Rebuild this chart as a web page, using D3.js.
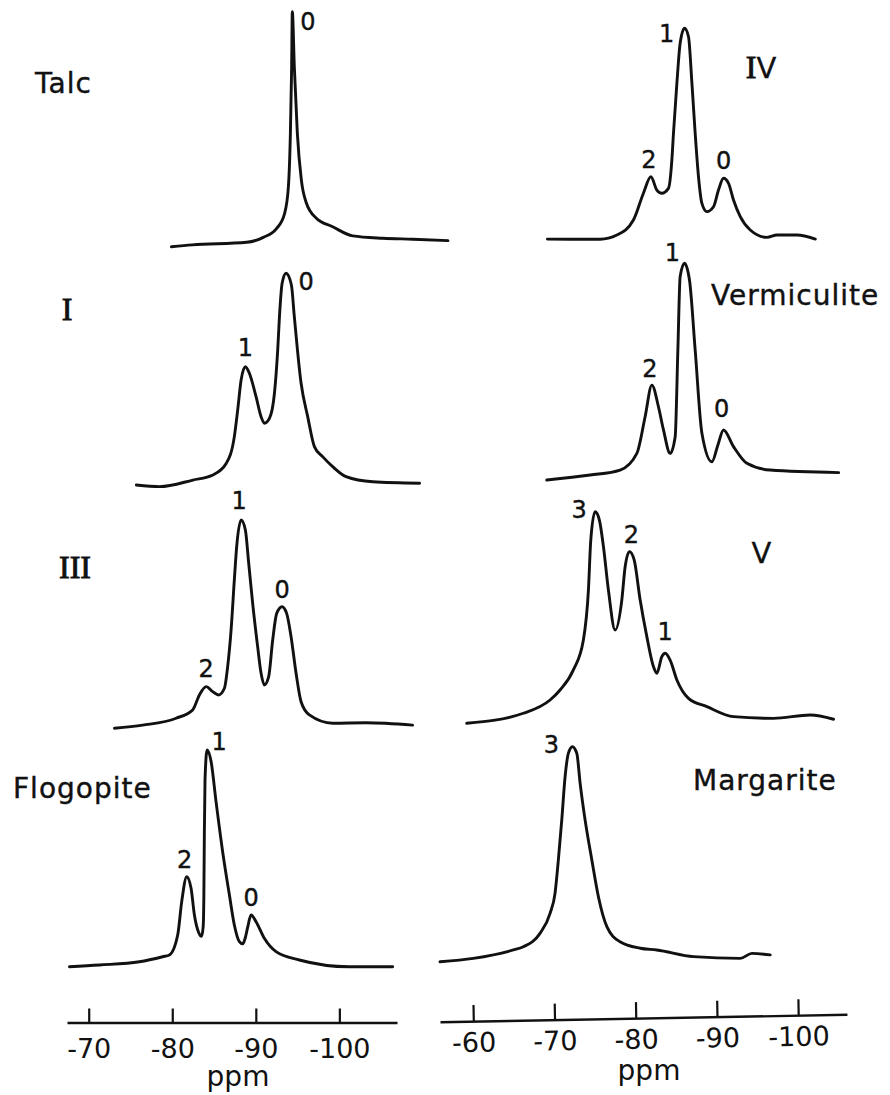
<!DOCTYPE html>
<html>
<head>
<meta charset="utf-8">
<script src="https://cdn.jsdelivr.net/npm/d3@7"></script>
<style>
  html, body { margin: 0; padding: 0; background: #fff; }
  svg { display: block; }
</style>
</head>
<body>
<svg id="chart" width="890" height="1095"></svg>
<script>
// 29Si MAS NMR spectra of layer silicates: [chemical shift (ppm), relative intensity]
const ticksLeft = [-70, -80, -90, -100];
const ticksRight = [-60, -70, -80, -90, -100];
const axisTitle = "ppm";

const talc = [[-79.9, 0.1], [-82.4, 0.9], [-88.9, 2.0], [-90.9, 4.1], [-92.5, 7.9], [-93.45, 14.3],
  [-93.9, 25.6], [-94.14, 48.4], [-94.29, 76.6], [-94.37, 100], [-94.61, 76.6], [-94.97, 48.4],
  [-95.45, 28.5], [-96.05, 18.7], [-97.25, 12.2], [-99.2, 8.6], [-101.6, 4.7], [-105.2, 3.7],
  [-108.8, 3.3], [-113.0, 2.7]];
const talcPeaks = [["0", -94.37, 100]];

const sampleI = [[-75.7, 0.5], [-78.49, -0.3], [-82.47, 2.8], [-84.86, 5.2], [-86.47, 10.7],
  [-87.43, 23.2], [-87.83, 35.7], [-88.24, 49.8], [-88.75, 56.1], [-89.23, 53.0], [-90.03, 42.0],
  [-90.63, 32.6], [-91.03, 29.5], [-91.63, 31.8], [-92.23, 43.6], [-92.62, 63.9], [-92.83, 79.6],
  [-93.15, 95.3], [-93.62, 100], [-94.26, 94.5], [-94.61, 79.6], [-95.42, 48.3], [-96.21, 32.6],
  [-97.01, 18.5], [-98.0, 13.8], [-99.2, 9.1], [-100.8, 4.4], [-104.0, 2.0], [-109.6, 1.3]];
const sampleIPeaks = [["1", -88.75, 56.1], ["0", -93.62, 100]];

const sampleIII = [[-73.08, -0.1], [-76.46, 1.4], [-80.46, 4.7], [-82.44, 8.7], [-83.25, 15.9],
  [-84.05, 19.9], [-84.84, 17.5], [-85.56, 15.9], [-86.24, 19.1], [-86.63, 29.5], [-87.04, 47.1],
  [-87.43, 71.2], [-87.71, 87.2], [-88.24, 100], [-88.75, 95.2], [-89.15, 79.2], [-89.62, 60.0],
  [-90.22, 39.1], [-90.63, 26.3], [-91.02, 20.7], [-91.54, 24.7], [-92.02, 42.3], [-92.5, 55.1],
  [-93.14, 58.3], [-93.69, 55.1], [-94.22, 43.9], [-94.82, 26.3], [-95.42, 12.6], [-96.41, 6.3],
  [-99.2, 2.3], [-103.19, 2.5], [-108.77, 1.4]];
const sampleIIIPeaks = [["2", -84.05, 19.9], ["1", -88.24, 100], ["0", -93.14, 58.3]];

const flogopite = [[-67.69, 0.1], [-71.28, 0.9], [-76.07, 2.4], [-78.85, 4.7], [-79.66, 5.5],
  [-80.65, 14.6], [-81.13, 29.9], [-81.73, 41.3], [-82.25, 36.0], [-82.65, 23.8], [-83.16, 15.8],
  [-83.5, 14.0], [-83.7, 18.5], [-83.78, 32.0], [-83.84, 60.4], [-83.92, 85.5], [-84.17, 99.3],
  [-84.65, 93.9], [-85.24, 75.6], [-86.03, 52.7], [-86.84, 32.9], [-87.43, 19.2], [-88.03, 11.6],
  [-88.43, 10.6], [-88.75, 13.5], [-89.03, 18.2], [-89.43, 23.8], [-90.03, 20.7], [-91.02, 13.1],
  [-92.42, 7.0], [-95.21, 3.2], [-101.2, 0.1], [-106.38, 0.1]];
const flogopitePeaks = [["2", -81.73, 41.3], ["1", -84.17, 99.3], ["0", -89.43, 23.8]];

const sampleIV = [[-69.12, 0.2], [-75.61, 0.1], [-77.67, 2.1], [-79.71, 9.2], [-80.94, 21.9],
  [-81.86, 29.7], [-82.59, 23.4], [-83.21, 21.9], [-84.02, 24.2], [-84.44, 37.6], [-84.64, 50.3],
  [-85.06, 74.0], [-85.46, 92.9], [-86.0, 100], [-86.49, 96.0], [-86.91, 74.0], [-87.31, 50.3],
  [-87.72, 29.7], [-88.14, 17.1], [-88.75, 13.2], [-89.57, 15.5], [-90.18, 23.4], [-90.8, 29.0],
  [-91.42, 26.6], [-92.03, 18.7], [-92.86, 10.8], [-94.09, 4.5], [-96.15, 1.0], [-97.38, 2.1],
  [-99.84, 2.1], [-102.1, 0.2]];
const sampleIVPeaks = [["2", -81.86, 29.7], ["1", -86.0, 100], ["0", -90.8, 29.0]];

const vermiculite = [[-69.04, 0], [-74.38, 2.3], [-78.07, 4.6], [-80.13, 12.3], [-81.15, 29.2],
  [-81.98, 43.8], [-82.79, 33.8], [-83.41, 23.1], [-84.23, 12.3], [-84.85, 20.0], [-85.18, 60.0],
  [-85.46, 93.8], [-85.99, 100], [-86.61, 92.3], [-87.31, 60.0], [-88.14, 21.6], [-89.37, 8.4],
  [-90.11, 16.2], [-90.8, 23.1], [-92.03, 15.4], [-93.68, 7.7], [-96.55, 4.6], [-104.97, 3.4]];
const vermiculitePeaks = [["2", -81.98, 43.8], ["1", -85.99, 100], ["0", -90.8, 23.1]];

const sampleV = [[-59.19, 0.1], [-66.16, 4.8], [-69.45, 11.0], [-70.68, 15.7], [-72.32, 25.1],
  [-73.55, 39.1], [-74.17, 62.5], [-74.46, 85.9], [-74.99, 99.2], [-75.52, 95.3], [-76.02, 82.8],
  [-76.63, 62.5], [-77.46, 43.8], [-78.28, 57.8], [-78.69, 73.4], [-79.22, 80.5], [-79.8, 76.6],
  [-80.54, 57.8], [-81.36, 40.7], [-82.18, 26.6], [-82.59, 23.5], [-83.21, 31.3], [-83.62, 32.9],
  [-84.23, 29.7], [-85.06, 20.4], [-86.49, 11.8], [-88.75, 7.9], [-92.03, 3.2], [-96.96, 2.4],
  [-101.48, 4.0], [-104.35, 2.0]];
const sampleVPeaks = [["3", -74.99, 99.2], ["2", -79.22, 80.5], ["1", -83.62, 32.9]];

const margarite = [[-55.9, 0.1], [-60.0, 1.7], [-64.93, 5.6], [-66.16, 7.1], [-68.21, 13.3],
  [-69.45, 22.6], [-70.06, 31.9], [-70.47, 47.4], [-70.89, 66.0], [-71.3, 86.1], [-71.7, 96.9],
  [-72.2, 100], [-72.74, 96.9], [-73.15, 83.0], [-73.76, 66.0], [-74.59, 47.4], [-75.4, 30.3],
  [-76.44, 16.4], [-78.07, 9.4], [-80.54, 6.4], [-82.59, 5.6], [-87.1, 2.5], [-92.86, 1.7],
  [-94.3, 4.0], [-96.55, 3.3]];
const margaritePeaks = [["3", -72.2, 100]];

// ---- layout ----
const svg = d3.select("#chart");
const xLeft = d3.scaleLinear().domain([-67.4, -106.9]).range([67, 397]);
const xRight = d3.scaleLinear().domain([-55.9, -106.0]).range([440, 847]);

// each trace: column, pixel rows for intensity 0 and 100, name placement, peak-label offsets
const panels = [
  { name: "Talc", data: talc, peaks: talcPeaks, x: xLeft, base: 247, top: 11.7,
    nx: 35, ny: 93, anchor: "start", roman: false, off: [[15.5, 10]] },
  { name: "I", data: sampleI, peaks: sampleIPeaks, x: xLeft, base: 486, top: 273.3,
    nx: 67, ny: 320, anchor: "middle", roman: true, off: [[0, -19], [20, 8]] },
  { name: "III", data: sampleIII, peaks: sampleIIIPeaks, x: xLeft, base: 728, top: 520,
    nx: 75, ny: 578, anchor: "middle", roman: true, off: [[0, -18], [-2, -20], [0, -17]] },
  { name: "Flogopite", data: flogopite, peaks: flogopitePeaks, x: xLeft, base: 967, top: 748.3,
    nx: 13, ny: 798, anchor: "start", roman: false, off: [[-2, -17], [12, -8], [0, -18]] },
  { name: "IV", data: sampleIV, peaks: sampleIVPeaks, x: xRight, base: 239.5, top: 28.3,
    nx: 761, ny: 78, anchor: "middle", roman: true, off: [[-2, -17], [-18, 5], [0, -18]] },
  { name: "Vermiculite", data: vermiculite, peaks: vermiculitePeaks, x: xRight, base: 480, top: 263.3,
    nx: 711, ny: 305, anchor: "start", roman: false, off: [[-2, -17], [-12, -11], [-2, -22]] },
  { name: "V", data: sampleV, peaks: sampleVPeaks, x: xRight, base: 723.5, top: 510,
    nx: 761.5, ny: 563, anchor: "middle", roman: true, off: [[-16, -2], [2, -17], [0, -22]] },
  { name: "Margarite", data: margarite, peaks: margaritePeaks, x: xRight, base: 962, top: 746.7,
    nx: 693, ny: 790, anchor: "start", roman: false, off: [[-21, -2]] }
];

const sansFont = "'DejaVu Sans', 'Noto Sans', sans-serif";
const serifFont = "'Liberation Serif', 'DejaVu Serif', serif";

panels.forEach(p => {
  const y = d3.scaleLinear().domain([0, 100]).range([p.base, p.top]);
  const line = d3.line()
    .x(d => p.x(d[0]))
    .y(d => y(d[1]))
    .curve(d3.curveMonotoneX);

  svg.append("path")
    .datum(p.data)
    .attr("d", line)
    .attr("fill", "none")
    .attr("stroke", "#111")
    .attr("stroke-width", 2.9)
    .attr("stroke-linejoin", "round")
    .attr("stroke-linecap", "round");

  // number of Al neighbours above each resonance
  svg.selectAll(null)
    .data(p.peaks)
    .join("text")
    .attr("x", (d, i) => p.x(d[1]) + p.off[i][0])
    .attr("y", (d, i) => y(d[2]) + p.off[i][1])
    .attr("dy", "0.36em")
    .attr("text-anchor", "middle")
    .attr("font-family", sansFont)
    .attr("font-size", 24)
    .attr("fill", "#111")
    .attr("stroke", "#111")
    .attr("stroke-width", 0.4)
    .text(d => d[0]);

  // sample name
  const t = svg.append("text")
    .attr("x", p.nx)
    .attr("y", p.ny)
    .attr("text-anchor", p.anchor)
    .attr("fill", "#111");
  if (p.roman) {
    // serifed I strokes, plain V
    t.attr("font-size", 32);
    p.name.split("").forEach(c => {
      t.append("tspan")
        .attr("font-family", c === "I" ? serifFont : sansFont)
        .attr("font-size", c === "I" ? 32 : 29)
        .attr("stroke", "#111")
        .attr("stroke-width", c === "I" ? 0.9 : 0.3)
        .text(c);
    });
  } else {
    t.attr("font-family", sansFont)
      .attr("font-size", 28)
      .attr("letter-spacing", 1)
      .attr("stroke", "#111")
      .attr("stroke-width", 0.4)
      .text(p.name);
  }
});

// ---- chemical shift axes ----
function drawAxis(scale, ticks, transform, tickLen, pad, titleX, titleY) {
  const g = svg.append("g")
    .attr("transform", transform)
    .call(d3.axisBottom(scale)
      .tickValues(ticks)
      .tickSizeInner(-tickLen)
      .tickSizeOuter(0)
      .tickPadding(pad)
      .tickFormat(d => String(d)));
  g.select(".domain").attr("stroke", "#111").attr("stroke-width", 2.4);
  g.selectAll(".tick line").attr("stroke", "#111").attr("stroke-width", 2.2);
  g.selectAll(".tick text")
    .attr("fill", "#111")
    .attr("font-family", sansFont)
    .attr("font-size", 27);
  svg.append("text")
    .attr("x", titleX)
    .attr("y", titleY)
    .attr("text-anchor", "middle")
    .attr("font-family", sansFont)
    .attr("font-size", 28)
    .attr("fill", "#111")
    .text(axisTitle);
}

drawAxis(xLeft, ticksLeft, "translate(0,1022.5)", 14, 16, 238, 1086);
drawAxis(xRight, ticksRight, "translate(0,1021.7) rotate(-1.04,440,0)", 16, 11.5, 649, 1080);
</script>
</body>
</html>
